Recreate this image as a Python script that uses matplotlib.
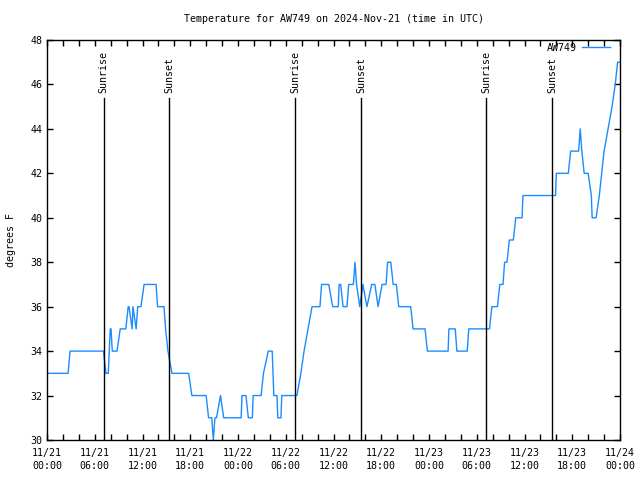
import numpy as np
import matplotlib
matplotlib.use('Agg')
import matplotlib.pyplot as plt
from matplotlib.ticker import MultipleLocator

plt.rcParams['font.family'] = 'DejaVu Sans Mono'
plt.rcParams['font.size'] = 7.2

# hours since 2024-11-21 00:00 UTC, temperature (F)
hours = [0.0, 2.65, 2.9, 7.1, 7.4, 7.7, 7.95, 8.05, 8.2, 8.3, 8.8, 9.2, 9.9, 10.2, 10.3,
         10.7, 10.8, 11.2, 11.4, 11.8, 12.2, 13.7, 13.9, 14.7, 14.9, 15.2, 15.7, 17.8,
         18.2, 20.0, 20.3, 20.7, 20.9, 21.1, 21.3, 21.8, 22.2, 24.4, 24.5, 25.0, 25.3,
         25.8, 25.9, 26.9, 27.2, 27.8, 28.3, 28.4, 28.5, 28.9, 29.0, 29.4, 29.5, 31.4,
         31.9, 32.3, 32.8, 33.3, 34.3, 34.5, 35.4, 35.9, 36.6, 36.7, 36.9, 37.2, 37.7,
         37.9, 38.5, 38.7, 38.9, 39.3, 39.7, 40.2, 40.8, 41.2, 41.6, 42.1, 42.6, 42.8,
         43.2, 43.5, 43.9, 44.2, 45.7, 46.0, 47.5, 47.8, 50.4, 50.5, 51.3, 51.5, 52.8,
         53.0, 55.6, 55.9, 56.6, 56.9, 57.3, 57.5, 57.8, 58.1, 58.6, 58.9, 59.7, 59.8,
         63.9, 64.0, 65.5, 65.8, 66.8, 67.0, 67.2, 67.5, 68.0, 68.4, 68.5, 69.0, 69.4,
         69.7, 70.0, 70.5, 71.0, 71.4, 71.7, 72.0]
temps = [33, 33, 34, 34, 33, 33, 35, 35, 34, 34, 34, 35, 35, 36, 36,
         35, 36, 35, 36, 36, 37, 37, 36, 36, 35, 34, 33, 33,
         32, 32, 31, 31, 30, 31, 31, 32, 31, 31, 32, 32, 31,
         31, 32, 32, 33, 34, 34, 33, 32, 32, 31, 31, 32, 32,
         33, 34, 35, 36, 36, 37, 37, 36, 36, 37, 37, 36, 36,
         37, 37, 38, 37, 36, 37, 36, 37, 37, 36, 37, 37, 38,
         38, 37, 37, 36, 36, 35, 35, 34, 34, 35, 35, 34, 34,
         35, 35, 36, 36, 37, 37, 38, 38, 39, 39, 40, 40, 41,
         41, 42, 42, 43, 43, 44, 43, 42, 42, 41, 40, 40, 41,
         42, 43, 44, 45, 46, 47, 47]

sun_times = [7.1, 15.37, 31.2, 39.46, 55.2, 63.5]
sun_labels = ['Sunrise', 'Sunset', 'Sunrise', 'Sunset', 'Sunrise', 'Sunset']

tick_hours = list(range(0, 73, 6))
tick_labels = ['11/21\n00:00', '11/21\n06:00', '11/21\n12:00', '11/21\n18:00',
               '11/22\n00:00', '11/22\n06:00', '11/22\n12:00', '11/22\n18:00',
               '11/23\n00:00', '11/23\n06:00', '11/23\n12:00', '11/23\n18:00',
               '11/24\n00:00']

fig = plt.figure(figsize=(6.4, 4.8), dpi=100)
ax = fig.add_axes([47/640, 40/480, 573/640, 400/480])

ax.plot(hours, temps, color='#1a8cff', lw=1.0, label='AW749')

for t, lab in zip(sun_times, sun_labels):
    ax.plot([t, t], [30, 45.4], color='black', lw=1.0)
    ax.text(t, 45.6, lab, rotation=90, ha='center', va='bottom')

ax.set_xlim(0, 72)
ax.set_ylim(30, 48)
ax.set_xticks(tick_hours)
ax.set_xticklabels(tick_labels, linespacing=1.3)
ax.xaxis.set_minor_locator(MultipleLocator(2))
ax.set_yticks(range(30, 49, 2))
ax.tick_params(which='both', direction='in', top=True, right=True, length=4, width=1)
ax.tick_params(axis='x', pad=6)
for s in ax.spines.values():
    s.set_linewidth(1.0)

ax.set_ylabel('degrees F', labelpad=10)
ax.set_title('Temperature for AW749 on 2024-Nov-21 (time in UTC)', fontsize=7.2, pad=13)
ax.legend(loc='upper right', bbox_to_anchor=(1 - 10/573, 1 - 3/400), frameon=False,
          markerfirst=False, handlelength=2.8, handletextpad=0.5,
          borderaxespad=0, borderpad=0)

fig.savefig('out.png', dpi=100)
